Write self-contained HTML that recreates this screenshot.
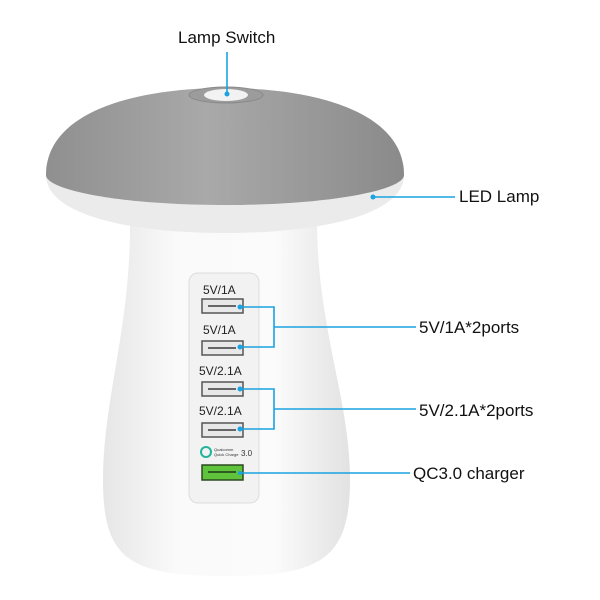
<!DOCTYPE html>
<html><head><style>
html,body{margin:0;padding:0;background:#fff;}
svg{display:block;}
text{font-family:"Liberation Sans","DejaVu Sans",sans-serif;}
</style></head><body>
<svg width="600" height="600" viewBox="0 0 600 600" xmlns="http://www.w3.org/2000/svg">
<defs>
<linearGradient id="cap" x1="0" y1="0" x2="1" y2="0">
<stop offset="0" stop-color="#8f8f8f"/><stop offset="0.45" stop-color="#a9a9a9"/><stop offset="1" stop-color="#8a8a8a"/>
</linearGradient>
<linearGradient id="stem" x1="0" y1="0" x2="1" y2="0">
<stop offset="0" stop-color="#e6e6e6"/><stop offset="0.3" stop-color="#fafafa"/><stop offset="0.7" stop-color="#fbfbfb"/><stop offset="1" stop-color="#e2e2e2"/>
</linearGradient>
</defs>
<!-- stem -->
<path d="M130 225 L317 225 C318 330 350 400 350 480 C350 560 320 576 225 576 C130 576 103 560 103 480 C103 400 130 330 130 225 Z" fill="url(#stem)"/>
<!-- white rim -->
<path d="M46 175 C46 215 130 233 225 233 C320 233 404 215 404 175 L404 165 L46 165 Z" fill="#ebebeb"/>
<!-- cap -->
<path d="M46 175 C46 110 140 88 225 88 C310 88 404 110 404 175 C404 190 330 205 225 205 C120 205 46 190 46 175 Z" fill="url(#cap)"/>
<ellipse cx="226" cy="95" rx="37" ry="8" fill="#9c9c9c" stroke="#8a8a8a"/>
<ellipse cx="226" cy="95" rx="22" ry="6" fill="#f2f2f2"/>
<!-- panel -->
<rect x="189" y="273" width="70" height="230" rx="9" fill="#f2f2f2" stroke="#dcdcdc"/>
<g font-size="12" fill="#222">
<text x="203" y="294">5V/1A</text>
<text x="203" y="334">5V/1A</text>
<text x="199" y="375">5V/2.1A</text>
<text x="199" y="415">5V/2.1A</text>
</g>
<g fill="#e8e8e8" stroke="#555" stroke-width="1.5">
<rect x="202" y="299" width="41" height="14"/>
<rect x="202" y="341" width="41" height="14"/>
<rect x="202" y="382" width="41" height="14"/>
<rect x="202" y="423" width="41" height="14"/>
</g>
<g fill="#666">
<rect x="208" y="305" width="28" height="2"/><rect x="208" y="347" width="28" height="2"/>
<rect x="208" y="388" width="28" height="2"/><rect x="208" y="429" width="28" height="2"/>
</g>
<circle cx="206" cy="452" r="5" fill="none" stroke="#1fb59a" stroke-width="2"/>
<text x="214" y="451" font-size="4" fill="#333">Qualcomm</text>
<text x="214" y="456" font-size="4" fill="#333">Quick Charge</text>
<text x="241" y="456" font-size="8" fill="#333">3.0</text>
<rect x="202" y="465" width="41" height="15" fill="#5fc33b" stroke="#2d4a20" stroke-width="1.5"/>
<rect x="208" y="471" width="28" height="2" fill="#2d5a20"/>
<!-- connectors -->
<g stroke="#1aa3e0" stroke-width="1.6" fill="none">
<line x1="227" y1="52" x2="227" y2="94"/>
<line x1="373" y1="197" x2="455" y2="197"/>
<polyline points="240,307 274,307 274,347 240,347"/>
<line x1="274" y1="327" x2="416" y2="327"/>
<polyline points="240,389 274,389 274,429 240,429"/>
<line x1="274" y1="409" x2="416" y2="409"/>
<line x1="240" y1="473" x2="410" y2="473"/>
</g>
<g fill="#1aa3e0">
<circle cx="227" cy="94" r="2.5"/><circle cx="373" cy="197" r="2.5"/>
<circle cx="240" cy="307" r="2.5"/><circle cx="240" cy="347" r="2.5"/>
<circle cx="240" cy="389" r="2.5"/><circle cx="240" cy="429" r="2.5"/>
<circle cx="240" cy="473" r="2"/>
</g>
<g font-size="17" fill="#111">
<text x="178" y="43">Lamp Switch</text>
<text x="459" y="202">LED Lamp</text>
<text x="419" y="333">5V/1A*2ports</text>
<text x="419" y="416">5V/2.1A*2ports</text>
<text x="413" y="479">QC3.0 charger</text>
</g>
</svg>
</body></html>
